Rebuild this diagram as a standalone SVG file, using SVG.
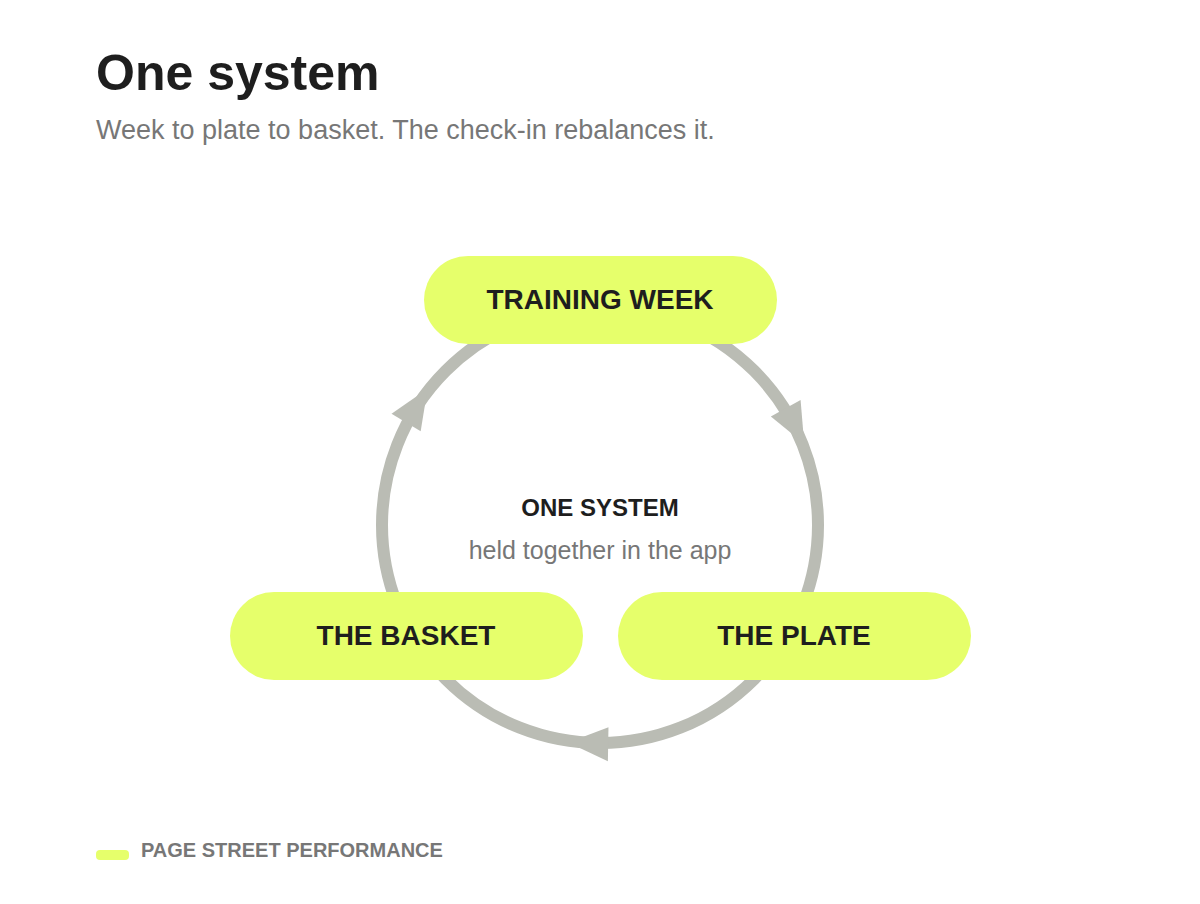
<svg xmlns="http://www.w3.org/2000/svg" width="1200" height="904" viewBox="0 0 1200 904">
<style>
text{font-family:"Liberation Sans",Arial,sans-serif}
.pill{fill:#e6ff6b}
.pt{font-size:28px;font-weight:bold;fill:#1e1e1e;text-anchor:middle}
.arr{fill:#babcb4}
</style>
<rect width="1200" height="904" fill="#fff"/>
<text x="96" y="90" font-size="50" font-weight="bold" fill="#1e1e1e">One system</text>
<text x="96" y="139" font-size="27" fill="#777">Week to plate to basket. The check-in rebalances it.</text>
<g id="connectors">
<circle cx="600" cy="525" r="218" fill="none" stroke="#babcb4" stroke-width="12"/>
<polygon class="arr" points="572,743 612,727 612,761" transform="rotate(1 600 525)"/>
<polygon class="arr" points="572,743 612,727 612,761" transform="rotate(-119 600 525)"/>
<polygon class="arr" points="572,743 612,727 612,761" transform="rotate(121 600 525)"/>
</g>
<g id="center">
<text x="600" y="516" font-size="24" font-weight="bold" fill="#1e1e1e" text-anchor="middle">ONE SYSTEM</text>
<text x="600" y="559" font-size="25" fill="#777" text-anchor="middle">held together in the app</text>
</g>
<g id="training-week"><rect class="pill" x="424" y="256" width="353" height="88" rx="44"/><text class="pt" x="600" y="309">TRAINING WEEK</text></g>
<g id="the-basket"><rect class="pill" x="230" y="592" width="353" height="88" rx="44"/><text class="pt" x="406" y="645">THE BASKET</text></g>
<g id="the-plate"><rect class="pill" x="618" y="592" width="353" height="88" rx="44"/><text class="pt" x="794" y="645">THE PLATE</text></g>
<g id="footer"><rect x="96" y="850" width="33" height="10" rx="4" fill="#e6ff6b"/><text x="141" y="857" font-size="20" font-weight="bold" fill="#777">PAGE STREET PERFORMANCE</text></g>
</svg>
